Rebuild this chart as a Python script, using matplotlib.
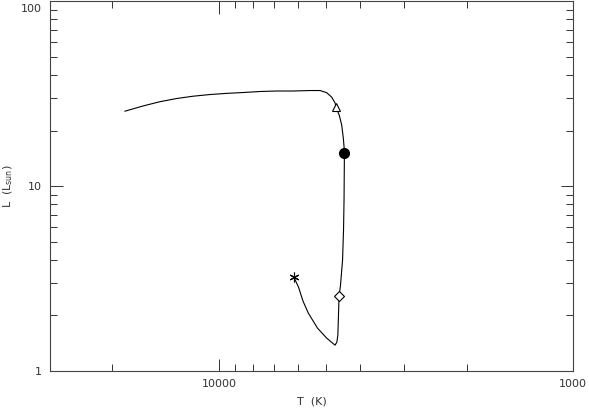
import matplotlib
matplotlib.use("Agg")
import matplotlib.pyplot as plt
import matplotlib.transforms as mtransforms
from matplotlib.ticker import FixedLocator, NullFormatter

# evolutionary track (T in K, L in Lsun)
track_T = [6140, 5963, 5790, 5594, 5270, 4964, 4702, 4647, 4617, 4603, 4581,
           4538, 4478, 4450, 4435, 4426, 4424, 4426, 4456, 4502, 4573, 4672,
           4702, 4804, 4964, 5184, 5533, 6180, 6902, 7660, 8541, 9555, 10603,
           11840, 13166, 14680, 16360, 18430]
track_L = [3.21, 2.845, 2.389, 2.058, 1.708, 1.508, 1.382, 1.435, 1.565, 1.887,
           2.544, 2.916, 3.981, 5.783, 8.402, 13.82, 15.14, 15.65, 18.18, 21.37,
           24.11, 26.73, 28.2, 30.27, 32.03, 32.9, 32.9, 32.7, 32.7, 32.5, 32.1,
           31.74, 31.3, 30.65, 29.79, 28.63, 27.17, 25.44]

# marked points along the track
star_T, star_L = [6140], [3.21]
diam_T, diam_L = [4581], [2.544]
dot_T, dot_L = [4424], [15.14]
tri_T, tri_L = [4672], [26.73]

plt.rcParams['font.family'] = 'DejaVu Sans'
fig = plt.figure(figsize=(5.89, 4.11), dpi=100)
ax = fig.add_axes([0.085, 0.097, 0.888, 0.9])

ax.plot(track_T, track_L, '-', color='black', lw=0.8)
ax.plot(star_T, star_L, marker=(6, 2, 0), color='black', ms=7, mew=0.8, ls='none')
ax.plot(diam_T, diam_L, 'D', mfc='white', mec='black', ms=5, mew=0.8)
ax.plot(dot_T, dot_L, 'o', color='black', ms=7)
ax.plot(tri_T, tri_L, '^', mfc='white', mec='black', ms=6, mew=0.8)

ax.set_xscale('log')
ax.set_yscale('log')
ax.set_xlim(30000, 1000)
ax.set_ylim(1, 100)

ax.xaxis.set_major_locator(FixedLocator([10000, 1000]))
ax.set_xticklabels(['10000', '1000'])
ax.xaxis.set_minor_locator(FixedLocator([20000, 9000, 8000, 7000, 6000, 5000,
                                         4000, 3000, 2000]))
ax.xaxis.set_minor_formatter(NullFormatter())
ax.yaxis.set_major_locator(FixedLocator([1, 10, 100]))
ax.set_yticklabels(['1', '10', '100'])
ax.yaxis.set_minor_locator(FixedLocator([2, 3, 4, 5, 6, 7, 8, 9,
                                         20, 30, 40, 50, 60, 70, 80, 90]))
ax.yaxis.set_minor_formatter(NullFormatter())

ax.tick_params(which='both', direction='in', top=True, right=True,
               labelsize=8, width=0.7, colors='#333333', pad=6)
ax.tick_params(which='major', length=9)
ax.tick_params(which='minor', length=5)
for s in ax.spines.values():
    s.set_linewidth(0.8)
    s.set_color('#444444')

# the top label sits just under the frame edge, as in the original
top_lab = ax.get_yticklabels()[-1]
top_lab.set_va('top')
top_lab.set_transform(top_lab.get_transform() +
                      mtransforms.ScaledTranslation(0, -2 / 72, fig.dpi_scale_trans))

ax.set_xlabel('T  (K)', fontsize=8, color='#333333', labelpad=5)
ax.set_ylabel(r'L  (L$_{\rm sun}$)', fontsize=8, color='#333333', labelpad=4)

fig.savefig('out.png', dpi=100)
